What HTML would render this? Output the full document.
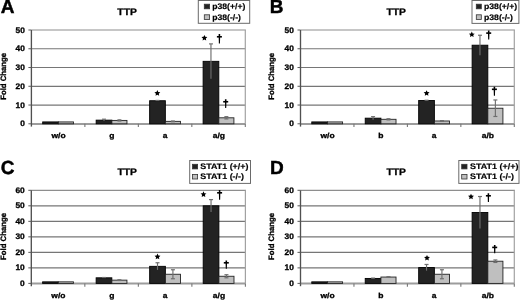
<!DOCTYPE html>
<html><head><meta charset="utf-8"><style>
html,body{margin:0;padding:0;background:#fff;}
svg{display:block;will-change:transform;filter:blur(0.35px);}
text{font-family:"Liberation Sans", sans-serif;font-weight:bold;fill:#000;text-rendering:geometricPrecision;}
</style></head><body>
<svg width="520" height="300" viewBox="0 0 520 300">
<rect width="520" height="300" fill="#fff"/>
<line x1="31.40" y1="105.04" x2="245.30" y2="105.04" stroke="#767676" stroke-width="1.2"/>
<line x1="31.40" y1="86.28" x2="245.30" y2="86.28" stroke="#767676" stroke-width="1.2"/>
<line x1="31.40" y1="67.52" x2="245.30" y2="67.52" stroke="#767676" stroke-width="1.2"/>
<line x1="31.40" y1="48.76" x2="245.30" y2="48.76" stroke="#767676" stroke-width="1.2"/>
<line x1="31.40" y1="30.00" x2="245.90" y2="30.00" stroke="#8e8e8e" stroke-width="1.2"/>
<line x1="245.30" y1="30.00" x2="245.30" y2="123.80" stroke="#a2a2a2" stroke-width="1.2"/>
<line x1="31.40" y1="123.95" x2="245.30" y2="123.95" stroke="#9c9c9c" stroke-width="2.1"/>
<rect x="42.69" y="121.92" width="15.70" height="1.88" fill="#232323" stroke="#000" stroke-width="0.9"/>
<rect x="58.39" y="121.92" width="15.10" height="1.88" fill="#bfbfbf" stroke="#222" stroke-width="0.9"/>
<rect x="96.16" y="120.14" width="15.70" height="3.66" fill="#232323" stroke="#000" stroke-width="0.9"/>
<line x1="104.01" y1="119.20" x2="104.01" y2="121.08" stroke="#6e6e6e" stroke-width="1.15"/>
<line x1="102.01" y1="119.20" x2="106.01" y2="119.20" stroke="#6e6e6e" stroke-width="1.2"/>
<rect x="111.86" y="120.42" width="15.10" height="3.38" fill="#bfbfbf" stroke="#222" stroke-width="0.9"/>
<line x1="119.41" y1="119.86" x2="119.41" y2="120.99" stroke="#6e6e6e" stroke-width="1.15"/>
<line x1="117.41" y1="119.86" x2="121.41" y2="119.86" stroke="#6e6e6e" stroke-width="1.2"/>
<line x1="117.41" y1="120.99" x2="121.41" y2="120.99" stroke="#6e6e6e" stroke-width="1.2"/>
<rect x="149.64" y="100.73" width="15.70" height="23.07" fill="#232323" stroke="#000" stroke-width="0.9"/>
<line x1="157.49" y1="100.44" x2="157.49" y2="101.01" stroke="#6e6e6e" stroke-width="1.15"/>
<line x1="155.49" y1="100.44" x2="159.49" y2="100.44" stroke="#6e6e6e" stroke-width="1.2"/>
<rect x="165.34" y="121.36" width="15.10" height="2.44" fill="#bfbfbf" stroke="#222" stroke-width="0.9"/>
<line x1="172.89" y1="120.99" x2="172.89" y2="121.74" stroke="#6e6e6e" stroke-width="1.15"/>
<line x1="170.89" y1="120.99" x2="174.89" y2="120.99" stroke="#6e6e6e" stroke-width="1.2"/>
<line x1="170.89" y1="121.74" x2="174.89" y2="121.74" stroke="#6e6e6e" stroke-width="1.2"/>
<rect x="203.11" y="61.33" width="15.70" height="62.47" fill="#232323" stroke="#000" stroke-width="0.9"/>
<line x1="210.96" y1="43.88" x2="210.96" y2="78.78" stroke="#6e6e6e" stroke-width="1.15"/>
<line x1="208.96" y1="43.88" x2="212.96" y2="43.88" stroke="#6e6e6e" stroke-width="1.2"/>
<rect x="218.81" y="117.80" width="15.10" height="6.00" fill="#bfbfbf" stroke="#222" stroke-width="0.9"/>
<line x1="226.36" y1="116.67" x2="226.36" y2="118.92" stroke="#6e6e6e" stroke-width="1.15"/>
<line x1="224.36" y1="116.67" x2="228.36" y2="116.67" stroke="#6e6e6e" stroke-width="1.2"/>
<line x1="224.36" y1="118.92" x2="228.36" y2="118.92" stroke="#6e6e6e" stroke-width="1.2"/>
<line x1="84.88" y1="123.80" x2="84.88" y2="127.10" stroke="#777" stroke-width="1.1"/>
<line x1="138.35" y1="123.80" x2="138.35" y2="127.10" stroke="#777" stroke-width="1.1"/>
<line x1="191.83" y1="123.80" x2="191.83" y2="127.10" stroke="#777" stroke-width="1.1"/>
<line x1="245.30" y1="123.80" x2="245.30" y2="127.10" stroke="#777" stroke-width="1.1"/>
<line x1="31.40" y1="30.00" x2="31.40" y2="126.60" stroke="#505050" stroke-width="1.35"/>
<line x1="28.40" y1="123.80" x2="31.40" y2="123.80" stroke="#5a5a5a" stroke-width="1"/>
<text x="20.17" y="126.40" font-size="8.0" textLength="4.67" lengthAdjust="spacingAndGlyphs" stroke="#000" stroke-width="0.3">0</text>
<line x1="28.40" y1="105.04" x2="31.40" y2="105.04" stroke="#5a5a5a" stroke-width="1"/>
<text x="15.50" y="107.64" font-size="8.0" textLength="9.34" lengthAdjust="spacingAndGlyphs" stroke="#000" stroke-width="0.3">10</text>
<line x1="28.40" y1="86.28" x2="31.40" y2="86.28" stroke="#5a5a5a" stroke-width="1"/>
<text x="15.50" y="88.88" font-size="8.0" textLength="9.34" lengthAdjust="spacingAndGlyphs" stroke="#000" stroke-width="0.3">20</text>
<line x1="28.40" y1="67.52" x2="31.40" y2="67.52" stroke="#5a5a5a" stroke-width="1"/>
<text x="15.50" y="70.12" font-size="8.0" textLength="9.34" lengthAdjust="spacingAndGlyphs" stroke="#000" stroke-width="0.3">30</text>
<line x1="28.40" y1="48.76" x2="31.40" y2="48.76" stroke="#5a5a5a" stroke-width="1"/>
<text x="15.50" y="51.36" font-size="8.0" textLength="9.34" lengthAdjust="spacingAndGlyphs" stroke="#000" stroke-width="0.3">40</text>
<line x1="28.40" y1="30.00" x2="31.40" y2="30.00" stroke="#5a5a5a" stroke-width="1"/>
<text x="15.50" y="32.60" font-size="8.0" textLength="9.34" lengthAdjust="spacingAndGlyphs" stroke="#000" stroke-width="0.3">50</text>
<text x="51.42" y="138.00" font-size="7.4" textLength="14.18" lengthAdjust="spacingAndGlyphs" stroke="#000" stroke-width="0.3">w/o</text>
<text x="109.32" y="138.00" font-size="7.4" textLength="5.20" lengthAdjust="spacingAndGlyphs" stroke="#000" stroke-width="0.3">g</text>
<text x="162.77" y="138.00" font-size="7.4" textLength="4.73" lengthAdjust="spacingAndGlyphs" stroke="#000" stroke-width="0.3">a</text>
<text x="212.78" y="138.00" font-size="7.4" textLength="12.30" lengthAdjust="spacingAndGlyphs" stroke="#000" stroke-width="0.3">a/g</text>
<text x="0.72" y="13.40" font-size="19" stroke="#000" stroke-width="0.45">A</text>
<text x="117.39" y="15.30" font-size="9.4" textLength="19.46" lengthAdjust="spacingAndGlyphs" stroke="#000" stroke-width="0.3">TTP</text>
<text transform="translate(5.50,99.82) rotate(-90)" x="0" y="0" font-size="7.8" textLength="46.99" lengthAdjust="spacingAndGlyphs" stroke="#000" stroke-width="0.3">Fold Change</text>
<rect x="198.30" y="0.50" width="51.40" height="22.80" fill="#fff" stroke="#6a6a6a" stroke-width="1"/>
<rect x="204.30" y="4.20" width="5.30" height="4.6" fill="#232323" stroke="#333" stroke-width="0.8"/>
<text x="212.23" y="9.10" font-size="8.0" textLength="33.10" lengthAdjust="spacingAndGlyphs" stroke="#000" stroke-width="0.18">p38(+/+)</text>
<rect x="204.30" y="14.80" width="5.30" height="4.6" fill="#bfbfbf" stroke="#333" stroke-width="0.8"/>
<text x="212.23" y="19.70" font-size="8.0" textLength="28.77" lengthAdjust="spacingAndGlyphs" stroke="#000" stroke-width="0.18">p38(-/-)</text>
<polygon points="157.35,90.10 158.23,91.99 160.30,92.24 158.78,93.66 159.17,95.71 157.35,94.70 155.53,95.71 155.92,93.66 154.40,92.24 156.47,91.99" fill="#000"/>
<polygon points="204.40,34.90 205.28,36.79 207.35,37.04 205.83,38.46 206.22,40.51 204.40,39.50 202.58,40.51 202.97,38.46 201.45,37.04 203.52,36.79" fill="#000"/>
<path d="M218.60,34.00 L220.20,34.00 L219.95,43.60 L218.85,43.60 Z" fill="#000"/>
<rect x="216.90" y="35.98" width="5.00" height="1.6" fill="#000"/>
<path d="M224.90,99.20 L226.50,99.20 L226.25,108.00 L225.15,108.00 Z" fill="#000"/>
<rect x="223.20" y="100.95" width="5.00" height="1.6" fill="#000"/>
<line x1="300.50" y1="105.04" x2="514.30" y2="105.04" stroke="#767676" stroke-width="1.2"/>
<line x1="300.50" y1="86.28" x2="514.30" y2="86.28" stroke="#767676" stroke-width="1.2"/>
<line x1="300.50" y1="67.52" x2="514.30" y2="67.52" stroke="#767676" stroke-width="1.2"/>
<line x1="300.50" y1="48.76" x2="514.30" y2="48.76" stroke="#767676" stroke-width="1.2"/>
<line x1="300.50" y1="30.00" x2="514.90" y2="30.00" stroke="#8e8e8e" stroke-width="1.2"/>
<line x1="514.30" y1="30.00" x2="514.30" y2="123.80" stroke="#a2a2a2" stroke-width="1.2"/>
<line x1="300.50" y1="123.95" x2="514.30" y2="123.95" stroke="#9c9c9c" stroke-width="2.1"/>
<rect x="311.78" y="121.92" width="15.70" height="1.88" fill="#232323" stroke="#000" stroke-width="0.9"/>
<rect x="327.48" y="121.92" width="15.10" height="1.88" fill="#bfbfbf" stroke="#222" stroke-width="0.9"/>
<rect x="365.22" y="118.17" width="15.70" height="5.63" fill="#232323" stroke="#000" stroke-width="0.9"/>
<line x1="373.07" y1="116.67" x2="373.07" y2="119.67" stroke="#6e6e6e" stroke-width="1.15"/>
<line x1="371.07" y1="116.67" x2="375.07" y2="116.67" stroke="#6e6e6e" stroke-width="1.2"/>
<rect x="380.92" y="119.30" width="15.10" height="4.50" fill="#bfbfbf" stroke="#222" stroke-width="0.9"/>
<line x1="388.47" y1="118.73" x2="388.47" y2="119.86" stroke="#6e6e6e" stroke-width="1.15"/>
<line x1="386.47" y1="118.73" x2="390.47" y2="118.73" stroke="#6e6e6e" stroke-width="1.2"/>
<line x1="386.47" y1="119.86" x2="390.47" y2="119.86" stroke="#6e6e6e" stroke-width="1.2"/>
<rect x="418.68" y="100.54" width="15.70" height="23.26" fill="#232323" stroke="#000" stroke-width="0.9"/>
<line x1="426.53" y1="100.26" x2="426.53" y2="100.82" stroke="#6e6e6e" stroke-width="1.15"/>
<line x1="424.53" y1="100.26" x2="428.53" y2="100.26" stroke="#6e6e6e" stroke-width="1.2"/>
<rect x="434.38" y="120.99" width="15.10" height="2.81" fill="#bfbfbf" stroke="#222" stroke-width="0.9"/>
<line x1="441.93" y1="120.61" x2="441.93" y2="121.36" stroke="#6e6e6e" stroke-width="1.15"/>
<line x1="439.93" y1="120.61" x2="443.93" y2="120.61" stroke="#6e6e6e" stroke-width="1.2"/>
<line x1="439.93" y1="121.36" x2="443.93" y2="121.36" stroke="#6e6e6e" stroke-width="1.2"/>
<rect x="472.12" y="45.20" width="15.70" height="78.60" fill="#232323" stroke="#000" stroke-width="0.9"/>
<line x1="479.97" y1="35.25" x2="479.97" y2="55.14" stroke="#6e6e6e" stroke-width="1.15"/>
<line x1="477.97" y1="35.25" x2="481.97" y2="35.25" stroke="#6e6e6e" stroke-width="1.2"/>
<rect x="487.82" y="108.23" width="15.10" height="15.57" fill="#bfbfbf" stroke="#222" stroke-width="0.9"/>
<line x1="495.37" y1="99.97" x2="495.37" y2="116.48" stroke="#6e6e6e" stroke-width="1.15"/>
<line x1="493.37" y1="99.97" x2="497.37" y2="99.97" stroke="#6e6e6e" stroke-width="1.2"/>
<line x1="493.37" y1="116.48" x2="497.37" y2="116.48" stroke="#6e6e6e" stroke-width="1.2"/>
<line x1="353.95" y1="123.80" x2="353.95" y2="127.10" stroke="#777" stroke-width="1.1"/>
<line x1="407.40" y1="123.80" x2="407.40" y2="127.10" stroke="#777" stroke-width="1.1"/>
<line x1="460.85" y1="123.80" x2="460.85" y2="127.10" stroke="#777" stroke-width="1.1"/>
<line x1="514.30" y1="123.80" x2="514.30" y2="127.10" stroke="#777" stroke-width="1.1"/>
<line x1="300.50" y1="30.00" x2="300.50" y2="126.60" stroke="#505050" stroke-width="1.35"/>
<line x1="297.50" y1="123.80" x2="300.50" y2="123.80" stroke="#5a5a5a" stroke-width="1"/>
<text x="289.27" y="126.40" font-size="8.0" textLength="4.67" lengthAdjust="spacingAndGlyphs" stroke="#000" stroke-width="0.3">0</text>
<line x1="297.50" y1="105.04" x2="300.50" y2="105.04" stroke="#5a5a5a" stroke-width="1"/>
<text x="284.60" y="107.64" font-size="8.0" textLength="9.34" lengthAdjust="spacingAndGlyphs" stroke="#000" stroke-width="0.3">10</text>
<line x1="297.50" y1="86.28" x2="300.50" y2="86.28" stroke="#5a5a5a" stroke-width="1"/>
<text x="284.60" y="88.88" font-size="8.0" textLength="9.34" lengthAdjust="spacingAndGlyphs" stroke="#000" stroke-width="0.3">20</text>
<line x1="297.50" y1="67.52" x2="300.50" y2="67.52" stroke="#5a5a5a" stroke-width="1"/>
<text x="284.60" y="70.12" font-size="8.0" textLength="9.34" lengthAdjust="spacingAndGlyphs" stroke="#000" stroke-width="0.3">30</text>
<line x1="297.50" y1="48.76" x2="300.50" y2="48.76" stroke="#5a5a5a" stroke-width="1"/>
<text x="284.60" y="51.36" font-size="8.0" textLength="9.34" lengthAdjust="spacingAndGlyphs" stroke="#000" stroke-width="0.3">40</text>
<line x1="297.50" y1="30.00" x2="300.50" y2="30.00" stroke="#5a5a5a" stroke-width="1"/>
<text x="284.60" y="32.60" font-size="8.0" textLength="9.34" lengthAdjust="spacingAndGlyphs" stroke="#000" stroke-width="0.3">50</text>
<text x="320.51" y="138.00" font-size="7.4" textLength="14.18" lengthAdjust="spacingAndGlyphs" stroke="#000" stroke-width="0.3">w/o</text>
<text x="378.17" y="138.00" font-size="7.4" textLength="5.20" lengthAdjust="spacingAndGlyphs" stroke="#000" stroke-width="0.3">b</text>
<text x="431.81" y="138.00" font-size="7.4" textLength="4.73" lengthAdjust="spacingAndGlyphs" stroke="#000" stroke-width="0.3">a</text>
<text x="481.68" y="138.00" font-size="7.4" textLength="12.30" lengthAdjust="spacingAndGlyphs" stroke="#000" stroke-width="0.3">a/b</text>
<text x="269.72" y="13.30" font-size="19" stroke="#000" stroke-width="0.45">B</text>
<text x="386.49" y="15.30" font-size="9.4" textLength="19.46" lengthAdjust="spacingAndGlyphs" stroke="#000" stroke-width="0.3">TTP</text>
<text transform="translate(274.00,99.82) rotate(-90)" x="0" y="0" font-size="7.8" textLength="46.99" lengthAdjust="spacingAndGlyphs" stroke="#000" stroke-width="0.3">Fold Change</text>
<rect x="472.00" y="0.50" width="46.90" height="22.90" fill="#fff" stroke="#6a6a6a" stroke-width="1"/>
<rect x="476.30" y="4.20" width="5.00" height="4.6" fill="#232323" stroke="#333" stroke-width="0.8"/>
<text x="483.93" y="9.10" font-size="8.0" textLength="33.31" lengthAdjust="spacingAndGlyphs" stroke="#000" stroke-width="0.18">p38(+/+)</text>
<rect x="476.30" y="14.80" width="5.00" height="4.6" fill="#bfbfbf" stroke="#333" stroke-width="0.8"/>
<text x="483.93" y="19.70" font-size="8.0" textLength="28.95" lengthAdjust="spacingAndGlyphs" stroke="#000" stroke-width="0.18">p38(-/-)</text>
<polygon points="426.60,90.20 427.48,92.09 429.55,92.34 428.03,93.76 428.42,95.81 426.60,94.80 424.78,95.81 425.17,93.76 423.65,92.34 425.72,92.09" fill="#000"/>
<polygon points="471.80,31.50 472.68,33.39 474.75,33.64 473.23,35.06 473.62,37.11 471.80,36.10 469.98,37.11 470.37,35.06 468.85,33.64 470.92,33.39" fill="#000"/>
<path d="M487.90,30.50 L489.50,30.50 L489.25,39.50 L488.15,39.50 Z" fill="#000"/>
<rect x="486.20" y="32.31" width="5.00" height="1.6" fill="#000"/>
<path d="M493.60,86.70 L495.20,86.70 L494.95,95.70 L493.85,95.70 Z" fill="#000"/>
<rect x="491.90" y="88.51" width="5.00" height="1.6" fill="#000"/>
<line x1="31.30" y1="267.88" x2="245.40" y2="267.88" stroke="#767676" stroke-width="1.2"/>
<line x1="31.30" y1="252.37" x2="245.40" y2="252.37" stroke="#767676" stroke-width="1.2"/>
<line x1="31.30" y1="236.85" x2="245.40" y2="236.85" stroke="#767676" stroke-width="1.2"/>
<line x1="31.30" y1="221.33" x2="245.40" y2="221.33" stroke="#767676" stroke-width="1.2"/>
<line x1="31.30" y1="205.82" x2="245.40" y2="205.82" stroke="#767676" stroke-width="1.2"/>
<line x1="31.30" y1="190.30" x2="246.00" y2="190.30" stroke="#8e8e8e" stroke-width="1.2"/>
<line x1="245.40" y1="190.30" x2="245.40" y2="283.40" stroke="#a2a2a2" stroke-width="1.2"/>
<line x1="31.30" y1="283.55" x2="245.40" y2="283.55" stroke="#9c9c9c" stroke-width="2.1"/>
<rect x="42.61" y="281.85" width="15.70" height="1.55" fill="#232323" stroke="#000" stroke-width="0.9"/>
<rect x="58.31" y="281.85" width="15.10" height="1.55" fill="#bfbfbf" stroke="#222" stroke-width="0.9"/>
<rect x="96.14" y="277.81" width="15.70" height="5.59" fill="#232323" stroke="#000" stroke-width="0.9"/>
<line x1="103.99" y1="277.50" x2="103.99" y2="278.12" stroke="#6e6e6e" stroke-width="1.15"/>
<line x1="101.99" y1="277.50" x2="105.99" y2="277.50" stroke="#6e6e6e" stroke-width="1.2"/>
<rect x="111.84" y="280.14" width="15.10" height="3.26" fill="#bfbfbf" stroke="#222" stroke-width="0.9"/>
<line x1="119.39" y1="279.83" x2="119.39" y2="280.45" stroke="#6e6e6e" stroke-width="1.15"/>
<line x1="117.39" y1="279.83" x2="121.39" y2="279.83" stroke="#6e6e6e" stroke-width="1.2"/>
<line x1="117.39" y1="280.45" x2="121.39" y2="280.45" stroke="#6e6e6e" stroke-width="1.2"/>
<rect x="149.66" y="266.33" width="15.70" height="17.07" fill="#232323" stroke="#000" stroke-width="0.9"/>
<line x1="157.51" y1="262.76" x2="157.51" y2="269.90" stroke="#6e6e6e" stroke-width="1.15"/>
<line x1="155.51" y1="262.76" x2="159.51" y2="262.76" stroke="#6e6e6e" stroke-width="1.2"/>
<rect x="165.36" y="274.25" width="15.10" height="9.15" fill="#bfbfbf" stroke="#222" stroke-width="0.9"/>
<line x1="172.91" y1="269.75" x2="172.91" y2="278.75" stroke="#6e6e6e" stroke-width="1.15"/>
<line x1="170.91" y1="269.75" x2="174.91" y2="269.75" stroke="#6e6e6e" stroke-width="1.2"/>
<line x1="170.91" y1="278.75" x2="174.91" y2="278.75" stroke="#6e6e6e" stroke-width="1.2"/>
<rect x="203.19" y="205.82" width="15.70" height="77.58" fill="#232323" stroke="#000" stroke-width="0.9"/>
<line x1="211.04" y1="199.61" x2="211.04" y2="212.02" stroke="#6e6e6e" stroke-width="1.15"/>
<line x1="209.04" y1="199.61" x2="213.04" y2="199.61" stroke="#6e6e6e" stroke-width="1.2"/>
<rect x="218.89" y="276.26" width="15.10" height="7.14" fill="#bfbfbf" stroke="#222" stroke-width="0.9"/>
<line x1="226.44" y1="274.71" x2="226.44" y2="277.81" stroke="#6e6e6e" stroke-width="1.15"/>
<line x1="224.44" y1="274.71" x2="228.44" y2="274.71" stroke="#6e6e6e" stroke-width="1.2"/>
<line x1="224.44" y1="277.81" x2="228.44" y2="277.81" stroke="#6e6e6e" stroke-width="1.2"/>
<line x1="84.83" y1="283.40" x2="84.83" y2="286.70" stroke="#777" stroke-width="1.1"/>
<line x1="138.35" y1="283.40" x2="138.35" y2="286.70" stroke="#777" stroke-width="1.1"/>
<line x1="191.88" y1="283.40" x2="191.88" y2="286.70" stroke="#777" stroke-width="1.1"/>
<line x1="245.40" y1="283.40" x2="245.40" y2="286.70" stroke="#777" stroke-width="1.1"/>
<line x1="31.30" y1="190.30" x2="31.30" y2="286.20" stroke="#505050" stroke-width="1.35"/>
<line x1="28.30" y1="283.40" x2="31.30" y2="283.40" stroke="#5a5a5a" stroke-width="1"/>
<text x="20.07" y="286.00" font-size="8.0" textLength="4.67" lengthAdjust="spacingAndGlyphs" stroke="#000" stroke-width="0.3">0</text>
<line x1="28.30" y1="267.88" x2="31.30" y2="267.88" stroke="#5a5a5a" stroke-width="1"/>
<text x="15.40" y="270.48" font-size="8.0" textLength="9.34" lengthAdjust="spacingAndGlyphs" stroke="#000" stroke-width="0.3">10</text>
<line x1="28.30" y1="252.37" x2="31.30" y2="252.37" stroke="#5a5a5a" stroke-width="1"/>
<text x="15.40" y="254.97" font-size="8.0" textLength="9.34" lengthAdjust="spacingAndGlyphs" stroke="#000" stroke-width="0.3">20</text>
<line x1="28.30" y1="236.85" x2="31.30" y2="236.85" stroke="#5a5a5a" stroke-width="1"/>
<text x="15.40" y="239.45" font-size="8.0" textLength="9.34" lengthAdjust="spacingAndGlyphs" stroke="#000" stroke-width="0.3">30</text>
<line x1="28.30" y1="221.33" x2="31.30" y2="221.33" stroke="#5a5a5a" stroke-width="1"/>
<text x="15.40" y="223.93" font-size="8.0" textLength="9.34" lengthAdjust="spacingAndGlyphs" stroke="#000" stroke-width="0.3">40</text>
<line x1="28.30" y1="205.82" x2="31.30" y2="205.82" stroke="#5a5a5a" stroke-width="1"/>
<text x="15.40" y="208.42" font-size="8.0" textLength="9.34" lengthAdjust="spacingAndGlyphs" stroke="#000" stroke-width="0.3">50</text>
<line x1="28.30" y1="190.30" x2="31.30" y2="190.30" stroke="#5a5a5a" stroke-width="1"/>
<text x="15.40" y="192.90" font-size="8.0" textLength="9.34" lengthAdjust="spacingAndGlyphs" stroke="#000" stroke-width="0.3">60</text>
<text x="51.35" y="297.80" font-size="7.4" textLength="14.18" lengthAdjust="spacingAndGlyphs" stroke="#000" stroke-width="0.3">w/o</text>
<text x="109.30" y="297.80" font-size="7.4" textLength="5.20" lengthAdjust="spacingAndGlyphs" stroke="#000" stroke-width="0.3">g</text>
<text x="162.80" y="297.80" font-size="7.4" textLength="4.73" lengthAdjust="spacingAndGlyphs" stroke="#000" stroke-width="0.3">a</text>
<text x="212.85" y="297.80" font-size="7.4" textLength="12.30" lengthAdjust="spacingAndGlyphs" stroke="#000" stroke-width="0.3">a/g</text>
<text x="0.72" y="173.80" font-size="19" stroke="#000" stroke-width="0.45">C</text>
<text x="117.49" y="175.00" font-size="9.4" textLength="19.46" lengthAdjust="spacingAndGlyphs" stroke="#000" stroke-width="0.3">TTP</text>
<text transform="translate(5.50,259.92) rotate(-90)" x="0" y="0" font-size="7.8" textLength="46.99" lengthAdjust="spacingAndGlyphs" stroke="#000" stroke-width="0.3">Fold Change</text>
<rect x="189.70" y="160.50" width="60.80" height="22.90" fill="#fff" stroke="#6a6a6a" stroke-width="1"/>
<rect x="192.50" y="164.30" width="5.10" height="4.6" fill="#232323" stroke="#333" stroke-width="0.8"/>
<text x="200.34" y="169.20" font-size="8.0" textLength="48.10" lengthAdjust="spacingAndGlyphs" stroke="#000" stroke-width="0.18">STAT1 (+/+)</text>
<rect x="192.50" y="174.40" width="5.10" height="4.6" fill="#bfbfbf" stroke="#333" stroke-width="0.8"/>
<text x="200.34" y="179.30" font-size="8.0" textLength="43.64" lengthAdjust="spacingAndGlyphs" stroke="#000" stroke-width="0.18">STAT1 (-/-)</text>
<polygon points="157.50,253.60 158.38,255.49 160.45,255.74 158.93,257.16 159.32,259.21 157.50,258.20 155.68,259.21 156.07,257.16 154.55,255.74 156.62,255.49" fill="#000"/>
<polygon points="203.50,191.30 204.38,193.19 206.45,193.44 204.93,194.86 205.32,196.91 203.50,195.90 201.68,196.91 202.07,194.86 200.55,193.44 202.62,193.19" fill="#000"/>
<path d="M218.80,190.00 L220.40,190.00 L220.15,199.70 L219.05,199.70 Z" fill="#000"/>
<rect x="217.10" y="192.01" width="5.00" height="1.6" fill="#000"/>
<path d="M225.50,260.40 L227.10,260.40 L226.85,268.70 L225.75,268.70 Z" fill="#000"/>
<rect x="223.80" y="262.01" width="5.00" height="1.6" fill="#000"/>
<line x1="300.50" y1="267.88" x2="514.30" y2="267.88" stroke="#767676" stroke-width="1.2"/>
<line x1="300.50" y1="252.37" x2="514.30" y2="252.37" stroke="#767676" stroke-width="1.2"/>
<line x1="300.50" y1="236.85" x2="514.30" y2="236.85" stroke="#767676" stroke-width="1.2"/>
<line x1="300.50" y1="221.33" x2="514.30" y2="221.33" stroke="#767676" stroke-width="1.2"/>
<line x1="300.50" y1="205.82" x2="514.30" y2="205.82" stroke="#767676" stroke-width="1.2"/>
<line x1="300.50" y1="190.30" x2="514.90" y2="190.30" stroke="#8e8e8e" stroke-width="1.2"/>
<line x1="514.30" y1="190.30" x2="514.30" y2="283.40" stroke="#a2a2a2" stroke-width="1.2"/>
<line x1="300.50" y1="283.55" x2="514.30" y2="283.55" stroke="#9c9c9c" stroke-width="2.1"/>
<rect x="311.78" y="281.85" width="15.70" height="1.55" fill="#232323" stroke="#000" stroke-width="0.9"/>
<rect x="327.48" y="281.85" width="15.10" height="1.55" fill="#bfbfbf" stroke="#222" stroke-width="0.9"/>
<rect x="365.22" y="278.43" width="15.70" height="4.97" fill="#232323" stroke="#000" stroke-width="0.9"/>
<line x1="373.07" y1="278.12" x2="373.07" y2="278.75" stroke="#6e6e6e" stroke-width="1.15"/>
<line x1="371.07" y1="278.12" x2="375.07" y2="278.12" stroke="#6e6e6e" stroke-width="1.2"/>
<rect x="380.92" y="277.04" width="15.10" height="6.36" fill="#bfbfbf" stroke="#222" stroke-width="0.9"/>
<line x1="388.47" y1="276.73" x2="388.47" y2="277.35" stroke="#6e6e6e" stroke-width="1.15"/>
<line x1="386.47" y1="276.73" x2="390.47" y2="276.73" stroke="#6e6e6e" stroke-width="1.2"/>
<line x1="386.47" y1="277.35" x2="390.47" y2="277.35" stroke="#6e6e6e" stroke-width="1.2"/>
<rect x="418.68" y="267.57" width="15.70" height="15.83" fill="#232323" stroke="#000" stroke-width="0.9"/>
<line x1="426.53" y1="264.47" x2="426.53" y2="270.68" stroke="#6e6e6e" stroke-width="1.15"/>
<line x1="424.53" y1="264.47" x2="428.53" y2="264.47" stroke="#6e6e6e" stroke-width="1.2"/>
<rect x="434.38" y="274.25" width="15.10" height="9.15" fill="#bfbfbf" stroke="#222" stroke-width="0.9"/>
<line x1="441.93" y1="269.75" x2="441.93" y2="278.75" stroke="#6e6e6e" stroke-width="1.15"/>
<line x1="439.93" y1="269.75" x2="443.93" y2="269.75" stroke="#6e6e6e" stroke-width="1.2"/>
<line x1="439.93" y1="278.75" x2="443.93" y2="278.75" stroke="#6e6e6e" stroke-width="1.2"/>
<rect x="472.12" y="212.49" width="15.70" height="70.91" fill="#232323" stroke="#000" stroke-width="0.9"/>
<line x1="479.97" y1="196.51" x2="479.97" y2="228.47" stroke="#6e6e6e" stroke-width="1.15"/>
<line x1="477.97" y1="196.51" x2="481.97" y2="196.51" stroke="#6e6e6e" stroke-width="1.2"/>
<rect x="487.82" y="261.21" width="15.10" height="22.19" fill="#bfbfbf" stroke="#222" stroke-width="0.9"/>
<line x1="495.37" y1="259.97" x2="495.37" y2="262.45" stroke="#6e6e6e" stroke-width="1.15"/>
<line x1="493.37" y1="259.97" x2="497.37" y2="259.97" stroke="#6e6e6e" stroke-width="1.2"/>
<line x1="493.37" y1="262.45" x2="497.37" y2="262.45" stroke="#6e6e6e" stroke-width="1.2"/>
<line x1="353.95" y1="283.40" x2="353.95" y2="286.70" stroke="#777" stroke-width="1.1"/>
<line x1="407.40" y1="283.40" x2="407.40" y2="286.70" stroke="#777" stroke-width="1.1"/>
<line x1="460.85" y1="283.40" x2="460.85" y2="286.70" stroke="#777" stroke-width="1.1"/>
<line x1="514.30" y1="283.40" x2="514.30" y2="286.70" stroke="#777" stroke-width="1.1"/>
<line x1="300.50" y1="190.30" x2="300.50" y2="286.20" stroke="#505050" stroke-width="1.35"/>
<line x1="297.50" y1="283.40" x2="300.50" y2="283.40" stroke="#5a5a5a" stroke-width="1"/>
<text x="289.27" y="286.00" font-size="8.0" textLength="4.67" lengthAdjust="spacingAndGlyphs" stroke="#000" stroke-width="0.3">0</text>
<line x1="297.50" y1="267.88" x2="300.50" y2="267.88" stroke="#5a5a5a" stroke-width="1"/>
<text x="284.60" y="270.48" font-size="8.0" textLength="9.34" lengthAdjust="spacingAndGlyphs" stroke="#000" stroke-width="0.3">10</text>
<line x1="297.50" y1="252.37" x2="300.50" y2="252.37" stroke="#5a5a5a" stroke-width="1"/>
<text x="284.60" y="254.97" font-size="8.0" textLength="9.34" lengthAdjust="spacingAndGlyphs" stroke="#000" stroke-width="0.3">20</text>
<line x1="297.50" y1="236.85" x2="300.50" y2="236.85" stroke="#5a5a5a" stroke-width="1"/>
<text x="284.60" y="239.45" font-size="8.0" textLength="9.34" lengthAdjust="spacingAndGlyphs" stroke="#000" stroke-width="0.3">30</text>
<line x1="297.50" y1="221.33" x2="300.50" y2="221.33" stroke="#5a5a5a" stroke-width="1"/>
<text x="284.60" y="223.93" font-size="8.0" textLength="9.34" lengthAdjust="spacingAndGlyphs" stroke="#000" stroke-width="0.3">40</text>
<line x1="297.50" y1="205.82" x2="300.50" y2="205.82" stroke="#5a5a5a" stroke-width="1"/>
<text x="284.60" y="208.42" font-size="8.0" textLength="9.34" lengthAdjust="spacingAndGlyphs" stroke="#000" stroke-width="0.3">50</text>
<line x1="297.50" y1="190.30" x2="300.50" y2="190.30" stroke="#5a5a5a" stroke-width="1"/>
<text x="284.60" y="192.90" font-size="8.0" textLength="9.34" lengthAdjust="spacingAndGlyphs" stroke="#000" stroke-width="0.3">60</text>
<text x="320.51" y="297.80" font-size="7.4" textLength="14.18" lengthAdjust="spacingAndGlyphs" stroke="#000" stroke-width="0.3">w/o</text>
<text x="378.17" y="297.80" font-size="7.4" textLength="5.20" lengthAdjust="spacingAndGlyphs" stroke="#000" stroke-width="0.3">b</text>
<text x="431.81" y="297.80" font-size="7.4" textLength="4.73" lengthAdjust="spacingAndGlyphs" stroke="#000" stroke-width="0.3">a</text>
<text x="481.68" y="297.80" font-size="7.4" textLength="12.30" lengthAdjust="spacingAndGlyphs" stroke="#000" stroke-width="0.3">a/b</text>
<text x="270.02" y="173.80" font-size="19" stroke="#000" stroke-width="0.45">D</text>
<text x="386.49" y="175.00" font-size="9.4" textLength="19.46" lengthAdjust="spacingAndGlyphs" stroke="#000" stroke-width="0.3">TTP</text>
<text transform="translate(274.00,259.92) rotate(-90)" x="0" y="0" font-size="7.8" textLength="46.99" lengthAdjust="spacingAndGlyphs" stroke="#000" stroke-width="0.3">Fold Change</text>
<rect x="458.80" y="160.50" width="60.20" height="22.90" fill="#fff" stroke="#6a6a6a" stroke-width="1"/>
<rect x="461.70" y="164.30" width="5.30" height="4.6" fill="#232323" stroke="#333" stroke-width="0.8"/>
<text x="470.04" y="169.20" font-size="8.0" textLength="48.41" lengthAdjust="spacingAndGlyphs" stroke="#000" stroke-width="0.18">STAT1 (+/+)</text>
<rect x="461.70" y="174.40" width="5.30" height="4.6" fill="#bfbfbf" stroke="#333" stroke-width="0.8"/>
<text x="470.04" y="179.30" font-size="8.0" textLength="43.92" lengthAdjust="spacingAndGlyphs" stroke="#000" stroke-width="0.18">STAT1 (-/-)</text>
<polygon points="427.00,254.90 427.88,256.79 429.95,257.04 428.43,258.46 428.82,260.51 427.00,259.50 425.18,260.51 425.57,258.46 424.05,257.04 426.12,256.79" fill="#000"/>
<polygon points="471.00,193.70 471.88,195.59 473.95,195.84 472.43,197.26 472.82,199.31 471.00,198.30 469.18,199.31 469.57,197.26 468.05,195.84 470.12,195.59" fill="#000"/>
<path d="M487.60,193.30 L489.20,193.30 L488.95,201.90 L487.85,201.90 Z" fill="#000"/>
<rect x="485.90" y="194.99" width="5.00" height="1.6" fill="#000"/>
<path d="M493.90,245.00 L495.50,245.00 L495.25,253.30 L494.15,253.30 Z" fill="#000"/>
<rect x="492.20" y="246.61" width="5.00" height="1.6" fill="#000"/>
</svg>
</body></html>
